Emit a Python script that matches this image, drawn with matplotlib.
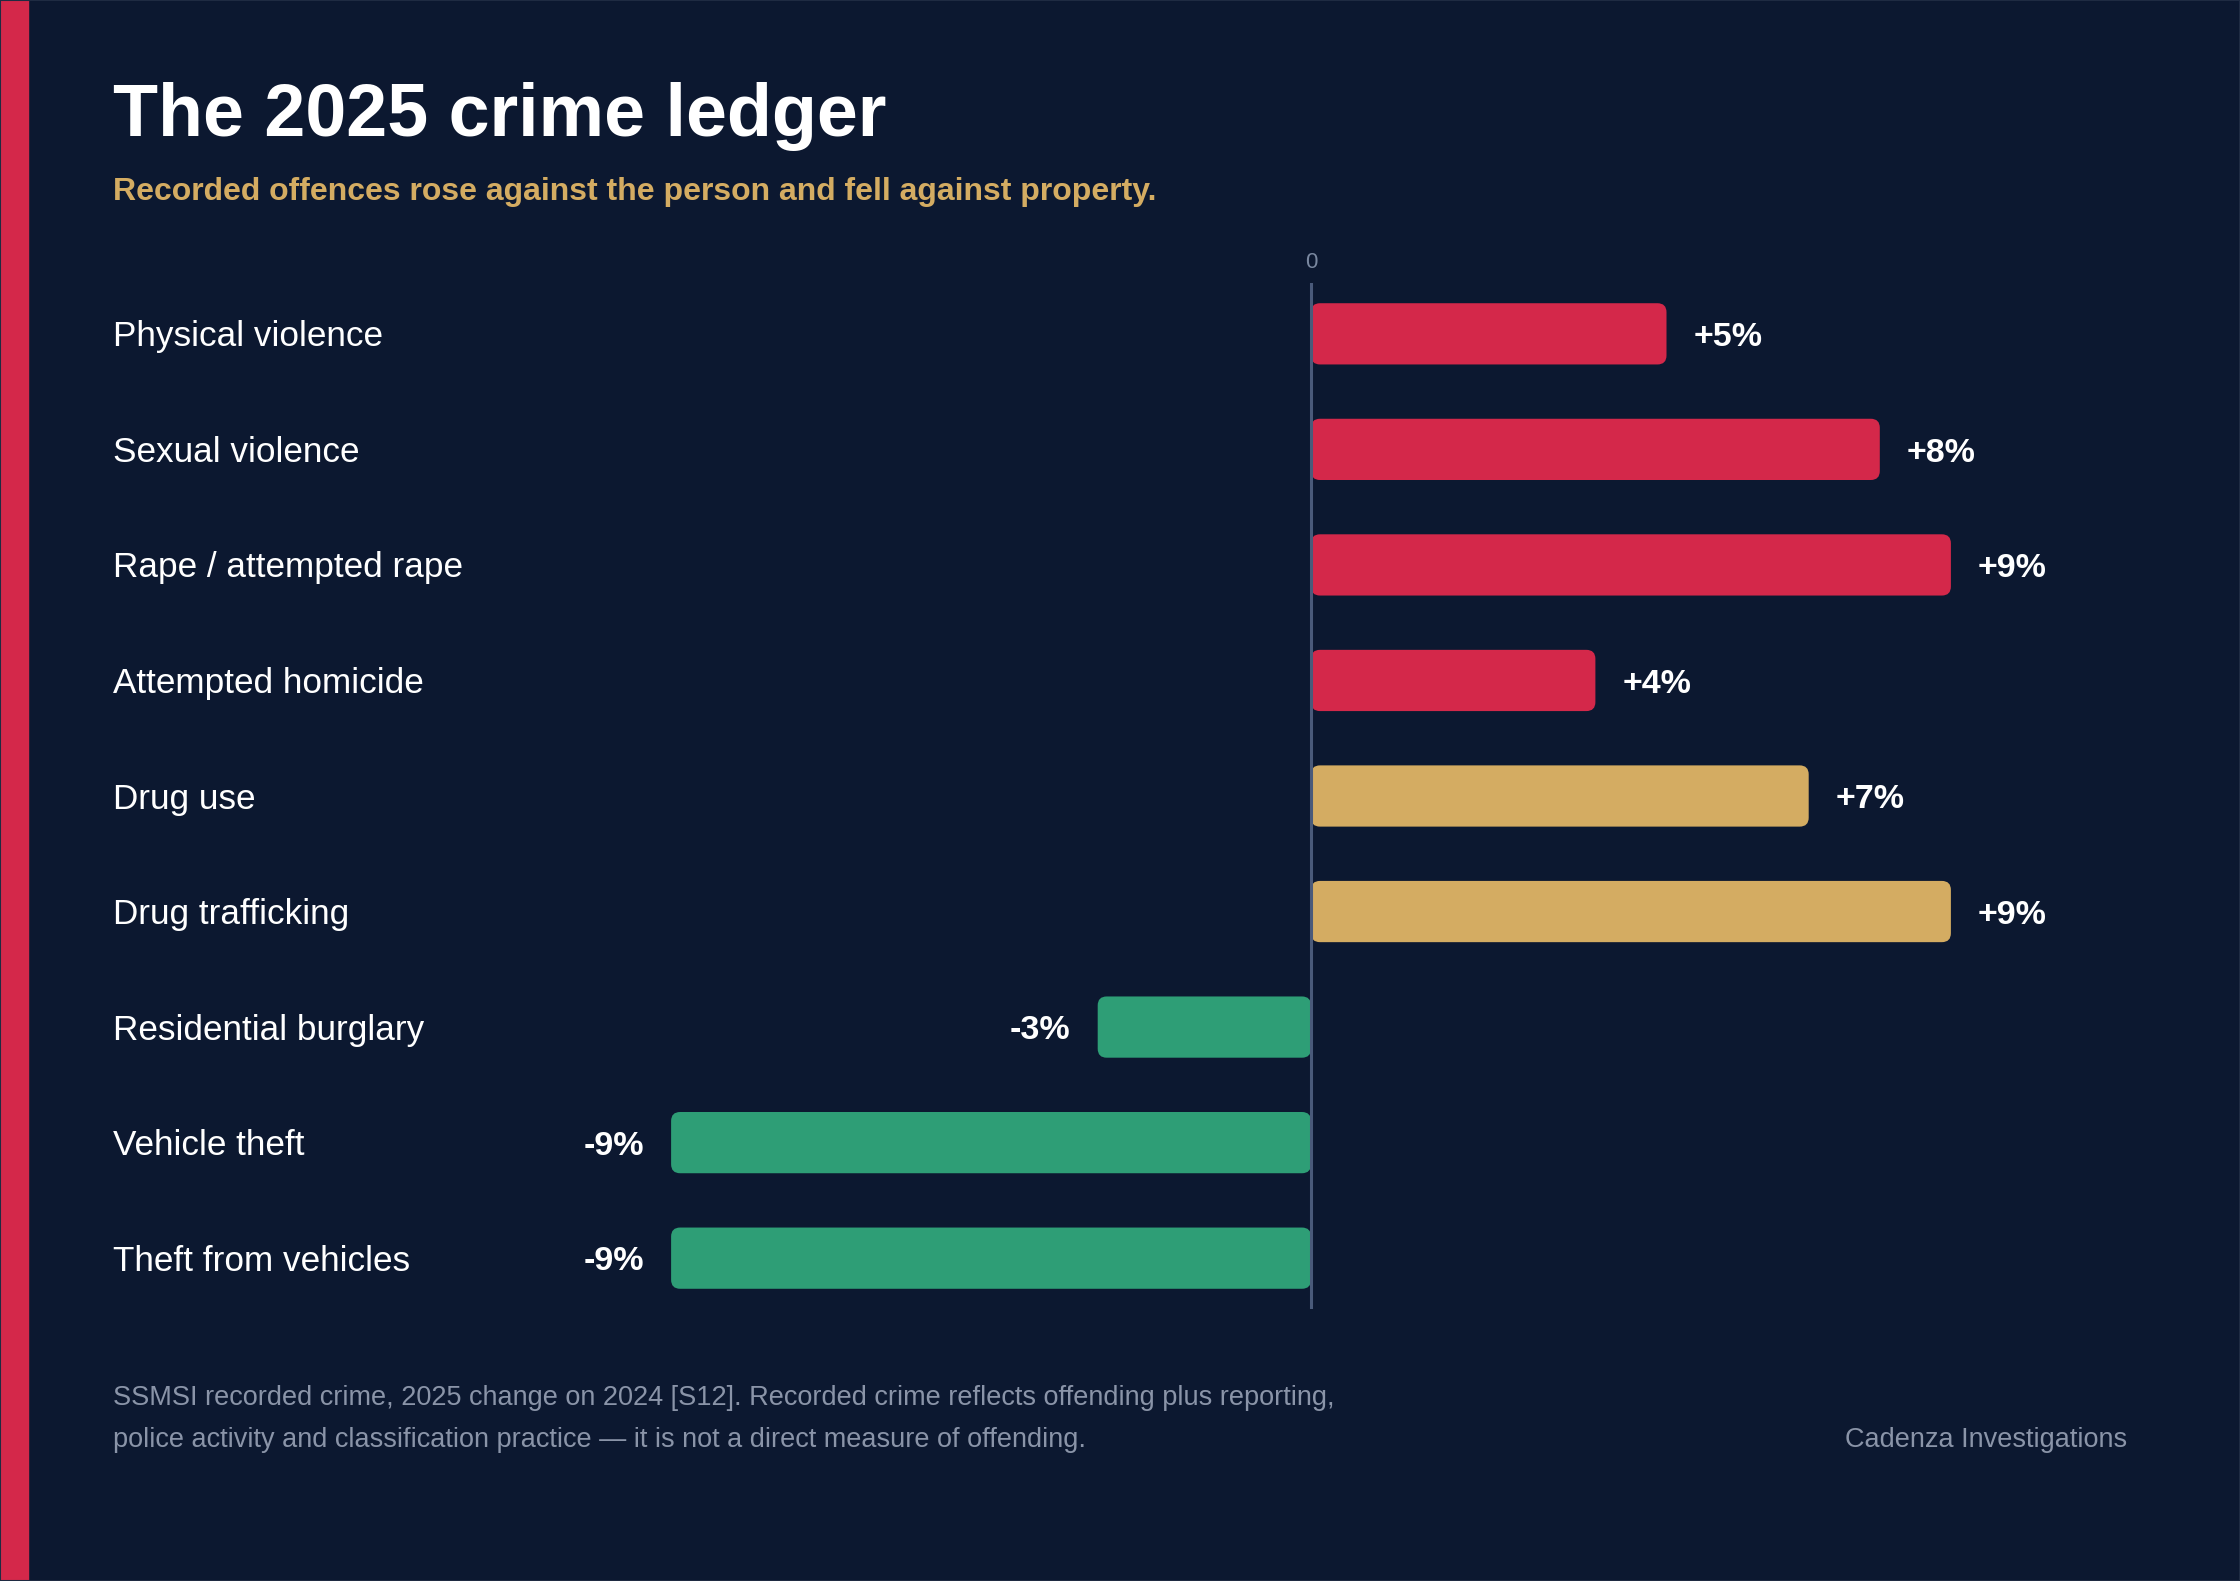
import matplotlib
matplotlib.use("Agg")
import matplotlib.pyplot as plt
from matplotlib.patches import FancyBboxPatch
import matplotlib.transforms as mtransforms

plt.rcParams['font.family'] = ['Liberation Sans', 'DejaVu Sans']

# ---- data ----
categories = ["Physical violence", "Sexual violence", "Rape / attempted rape",
              "Attempted homicide", "Drug use", "Drug trafficking",
              "Residential burglary", "Vehicle theft", "Theft from vehicles"]
changes = [5, 8, 9, 4, 7, 9, -3, -9, -9]
groups = ["person", "person", "person", "person", "drugs", "drugs",
          "property", "property", "property"]
group_colors = {"person": "#D4284A", "drugs": "#D4AC62", "property": "#2E9E76"}

title = "The 2025 crime ledger"
subtitle = "Recorded offences rose against the person and fell against property."
footer_lines = ["SSMSI recorded crime, 2025 change on 2024 [S12]. Recorded crime reflects offending plus reporting,",
                "police activity and classification practice \u2014 it is not a direct measure of offending."]
credit = "Cadenza Investigations"

BG = "#0C1830"
W, H = 2240, 1581
fig = plt.figure(figsize=(W / 100, H / 100), dpi=100, facecolor=BG)

# left red strip and thin frame
fig.patches.append(plt.Rectangle((0, 0), 28 / W, 1, transform=fig.transFigure,
                                 color="#D4284A", zorder=5))
fig.patches.append(plt.Rectangle((0, 0), 1, 1, transform=fig.transFigure,
                                 fill=False, edgecolor="#1F2B42", linewidth=1.5, zorder=6))

ax_l, ax_r, ax_t, ax_b = 113, 2127, 283, 1309
ax = fig.add_axes([ax_l / W, 1 - ax_b / H, (ax_r - ax_l) / W, (ax_b - ax_t) / H])
ax.set_facecolor(BG)
ax.patch.set_alpha(0)
px_per_unit = 71.1
zero_px = 1311
xmin = -(zero_px - ax_l) / px_per_unit
xmax = (ax_r - zero_px) / px_per_unit
ax.set_xlim(xmin, xmax)
ax.set_ylim(8.44, -0.44)
for s in ax.spines.values():
    s.set_visible(False)
ax.set_xticks([])
ax.set_yticks([])

bar_h = 0.53
ypos = list(range(len(categories)))
bars = ax.barh(ypos, changes, height=bar_h, color=[group_colors[g] for g in groups])

# replace rectangles with rounded boxes built from bar geometry
row_px = (ax_b - ax_t) / (8.44 + 0.44)
r_px = 9
aspect = px_per_unit / row_px
for b in bars:
    x0, y0, w, h = b.get_x(), b.get_y(), b.get_width(), b.get_height()
    if w < 0:
        x0, w = x0 + w, -w
    fb = FancyBboxPatch((x0, y0), w, h,
                        boxstyle=f"round,pad=0,rounding_size={r_px / px_per_unit}",
                        mutation_aspect=aspect, facecolor=b.get_facecolor(),
                        edgecolor="none", zorder=2)
    ax.add_patch(fb)
    b.set_visible(False)

ax.axvline(0, color="#4A5A7A", linewidth=2.2, zorder=3)
ax.text(0, 1 + 20 / (ax_b - ax_t), "0", transform=mtransforms.blended_transform_factory(ax.transData, ax.transAxes),
        ha="center", va="center", color="#7A88A0", fontsize=16)


def cap_shift(fs):
    # shift baseline down by half cap height so text is centred on its caps
    return mtransforms.ScaledTranslation(0, -0.716 * fs / 2 / 72, fig.dpi_scale_trans)


off = 27 / px_per_unit
lbl_trans = mtransforms.blended_transform_factory(ax.transAxes, ax.transData) + cap_shift(25.3)
val_trans = ax.transData + cap_shift(24.5)
for y, cat, v in zip(ypos, categories, changes):
    ax.text(0, y, cat, transform=lbl_trans, ha="left", va="baseline",
            color="white", fontsize=25.3)
    if v >= 0:
        ax.text(v + off, y, f"{v:+d}%", ha="left", va="baseline", color="white",
                fontsize=24.5, fontweight="bold", transform=val_trans)
    else:
        ax.text(v - off, y, f"{v:+d}%", ha="right", va="baseline", color="white",
                fontsize=24.5, fontweight="bold", transform=val_trans)

fig.text(113 / W, 1 - 136 / H, title, ha="left", va="baseline", color="white",
         fontsize=53, fontweight="bold")
fig.text(113 / W, 1 - 200 / H, subtitle, ha="left", va="baseline", color="#D4AC62",
         fontsize=23, fontweight="bold")
fig.text(113 / W, 1 - 1405 / H, footer_lines[0], ha="left", va="baseline",
         color="#8A94A8", fontsize=19.5)
fig.text(113 / W, 1 - 1447 / H, footer_lines[1], ha="left", va="baseline",
         color="#8A94A8", fontsize=19.5)
fig.text(2127 / W, 1 - 1447 / H, credit, ha="right", va="baseline",
         color="#8A94A8", fontsize=19.5)

fig.savefig("out.png", dpi=100, facecolor=BG)
